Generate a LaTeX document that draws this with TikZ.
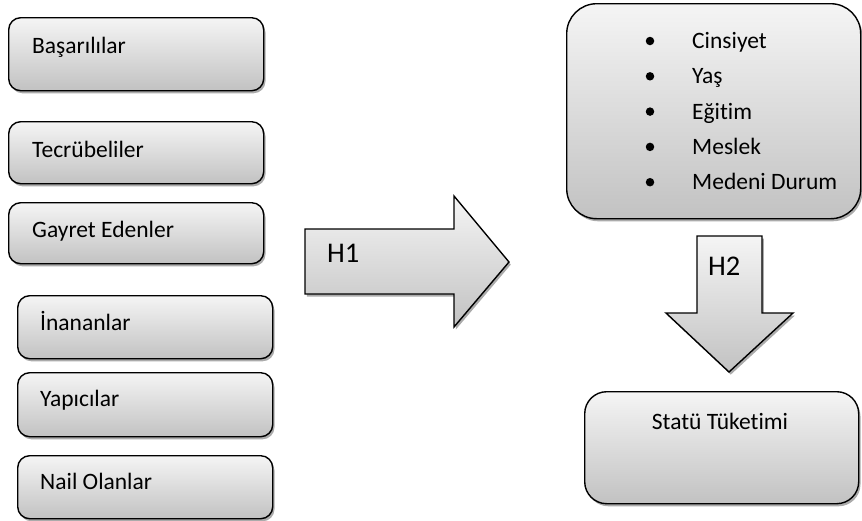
\documentclass[tikz,border=0pt]{standalone}
\usepackage{fontspec}
\setmainfont[Ligatures=NoCommon]{Carlito}
\usetikzlibrary{shadows}
\tikzset{
  panel/.style={draw=black, line width=1.4pt, top color=black!4, bottom color=black!24,
    drop shadow={shadow xshift=1.8pt, shadow yshift=-2.6pt, fill=black!55, opacity=0.6}},
  itembox/.style={panel, rounded corners=12pt, minimum width=255pt, minimum height=63pt,
    anchor=north west, inner sep=0pt},
  blockarrow/.style={panel, line join=miter},
  lbl/.style={anchor=base west, inner sep=0pt, font=\fontsize{23.5}{28}\selectfont},
  hyp/.style={lbl, font=\fontsize{28.5}{34}\selectfont},
  dot/.style={circle, fill=black, inner sep=0pt, minimum size=8.5pt},
}
\begin{document}
\begin{tikzpicture}[x=1pt, y=-1pt]
\useasboundingbox (0,0) rectangle (862,520);

% left column: six groups
\node[itembox, minimum height=73pt] (b1) at (8,17) {};
\node[itembox, minimum height=62pt] (b2) at (8,121) {};
\node[itembox, minimum height=61pt] (b3) at (8,202) {};
\node[itembox, minimum height=63pt] (b4) at (17,295) {};
\node[itembox, minimum height=64pt] (b5) at (17,372) {};
\node[itembox, minimum height=63pt] (b6) at (17,455) {};

\node[lbl] (t1) at (32,53) {Başarılılar};
\node[lbl] (t2) at (32,157) {Tecrübeliler};
\node[lbl] (t3) at (32,237) {Gayret Edenler};
\node[lbl] (t4) at (40,330) {İnananlar};
\node[lbl] (t5) at (40,406) {Yapıcılar};
\node[lbl] (t6) at (40,489) {Nail Olanlar};

% block arrow H1
\draw[blockarrow] (305,229) -- (454,229) -- (454,196) -- (509,262) -- (454,327)
  -- (454,294) -- (305,294) -- cycle;
\node[hyp] (h1) at (327,262) {H1};

% demographic variables
\node[panel, rounded corners=30pt, minimum width=294pt, minimum height=215pt,
  anchor=north west, inner sep=0pt] (demo) at (566,3) {};
\foreach \t [count=\i] in {Cinsiyet, Yaş, Eğitim, Meslek, Medeni Durum} {
  \node[dot] (d\i) at (650,{48.5+35.3*(\i-1)-7.5}) {};
  \node[lbl] (v\i) at (692,{48.5+35.3*(\i-1)}) {\t};
}

% block arrow H2
\draw[blockarrow] (697,236) -- (762,236) -- (762,313) -- (793,313) -- (729,372)
  -- (666,313) -- (697,313) -- cycle;
\node[hyp] (h2) at (708,275) {H2};

% outcome
\node[panel, rounded corners=22pt, minimum width=274pt, minimum height=112pt,
  anchor=north west, inner sep=0pt] (st) at (584,391) {};
\node[lbl, anchor=base] (tst) at (720,429) {Statü Tüketimi};
\end{tikzpicture}
\end{document}
